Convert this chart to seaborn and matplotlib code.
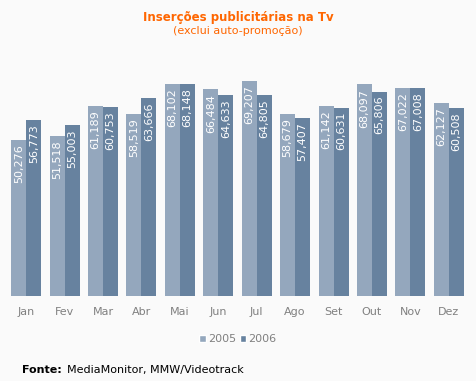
import numpy as np
import pandas as pd
import seaborn as sns
import matplotlib
matplotlib.use('Agg')
import matplotlib.pyplot as plt
from matplotlib.patches import Patch

# dados
meses = ["Jan", "Fev", "Mar", "Abr", "Mai", "Jun", "Jul", "Ago", "Set", "Out", "Nov", "Dez"]
anos = ["2005", "2006"]
valores_2005 = [50276, 51518, 61189, 58519, 68102, 66484, 69207, 58679, 61142, 68097, 67022, 62127]
valores_2006 = [56773, 55003, 60753, 63666, 68148, 64633, 64805, 57407, 60631, 65806, 67008, 60508]

df = pd.DataFrame({
    "mes": meses * 2,
    "ano": [anos[0]] * 12 + [anos[1]] * 12,
    "valor": valores_2005 + valores_2006,
})

sns.set_theme(style="white")
plt.rcParams['font.family'] = ['DejaVu Sans']

fundo = "#fafafa"
cores = {"2005": "#94a7bd", "2006": "#67829f"}

fig = plt.figure(figsize=(4.76, 3.81), dpi=100, facecolor=fundo)
ax = fig.add_axes([7 / 476, 1 - 296 / 381, 461 / 476, 246 / 381])
ax.set_facecolor(fundo)

sns.barplot(data=df, x="mes", y="valor", hue="ano", palette=cores,
            width=0.78, saturation=1, linewidth=0, ax=ax, legend=False)

ax.set_ylim(0, 79200)
ax.set_xlim(-0.5, 11.5)

for cont in ax.containers:
    rotulos = ax.bar_label(cont, fmt="{:,.0f}", label_type="edge", padding=-3,
                           rotation=90, color="white", fontsize=8)
    for r in rotulos:
        r.set_va("top")
        r.set_ha("center")

for s in ax.spines.values():
    s.set_visible(False)
ax.set_yticks([])
ax.set_xlabel("")
ax.set_ylabel("")
ax.tick_params(axis="x", length=0, pad=8, labelsize=8, labelcolor="#808080")

# legenda
alcas = [Patch(facecolor=cores[a], label=a) for a in anos]
fig.legend(handles=alcas, loc="center", bbox_to_anchor=(0.5, 1 - 339 / 381), ncol=2,
           frameon=False, handlelength=0.6, handleheight=0.6, handletextpad=0.2,
           columnspacing=0.3, fontsize=8, labelcolor="#808080")

# títulos
fig.text(0.5, 1 - 17 / 381, "Inserções publicitárias na Tv", ha="center", va="center",
         color="#ff6600", fontsize=8.5, fontweight="bold")
fig.text(0.5, 1 - 31 / 381, "(exclui auto-promoção)", ha="center", va="center",
         color="#ff6600", fontsize=8)

fig.text(22 / 476, 1 - 370 / 381, "Fonte:", ha="left", va="center",
         color="black", fontsize=8, fontweight="bold")
fig.text(67 / 476, 1 - 370 / 381, "MediaMonitor, MMW/Videotrack", ha="left", va="center",
         color="black", fontsize=8)

fig.savefig("out.png", dpi=100, facecolor=fundo)
